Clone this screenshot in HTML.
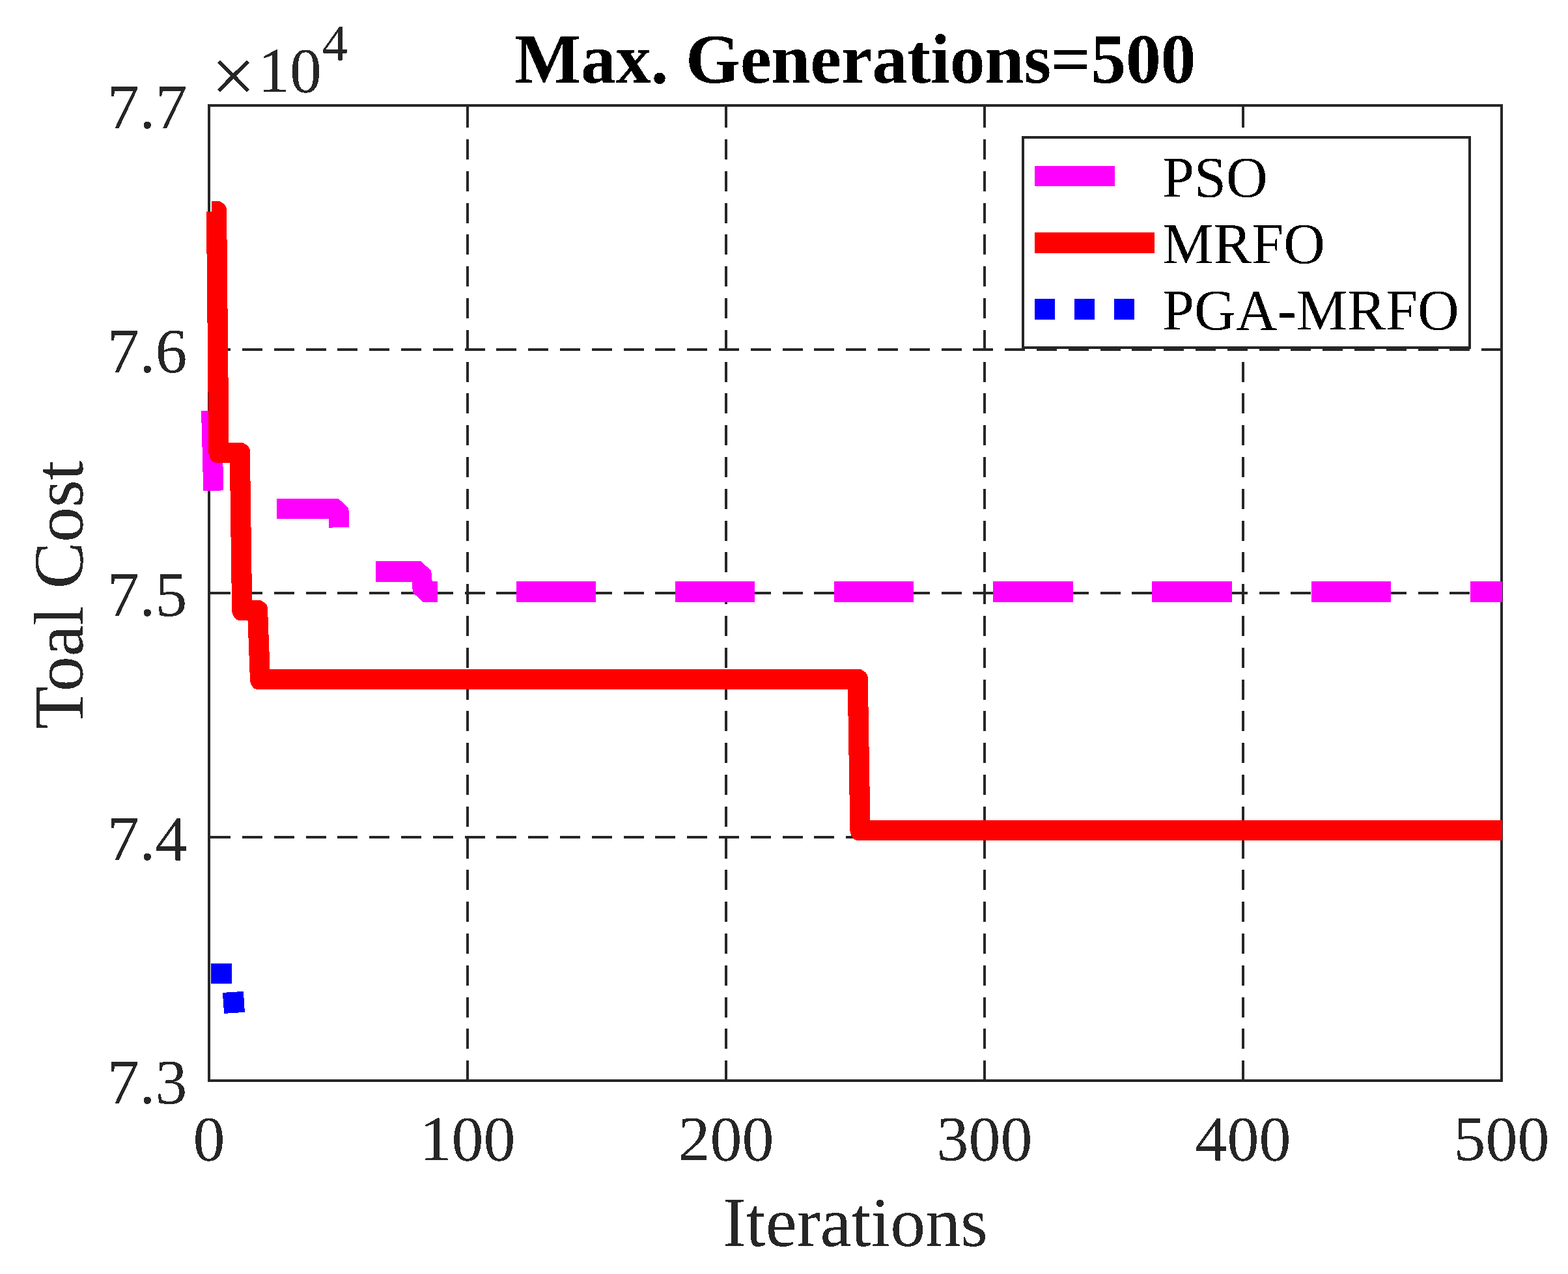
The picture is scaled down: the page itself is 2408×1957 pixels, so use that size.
<!DOCTYPE html>
<html><head><meta charset="utf-8"><title>Max. Generations=500</title>
<style>html,body{margin:0;padding:0;background:#fff;}svg{display:block;}</style></head>
<body><svg width="2408" height="1957" viewBox="0 0 2408 1957" shape-rendering="crispEdges">
<defs><filter id="bin" filterUnits="userSpaceOnUse" x="0" y="0" width="2408" height="1957" color-interpolation-filters="sRGB"><feComponentTransfer><feFuncA type="discrete" tableValues="0 1"/></feComponentTransfer></filter></defs>
<rect x="0" y="0" width="2408" height="1957" fill="#ffffff"/>
<path d="M718,165.2V1660 M1115,165.2V1660 M1512,165.2V1660 M1909,165.2V1660 M323.2,536.5H2306 M323.2,911H2306 M323.2,1285.5H2306" stroke="#262626" stroke-width="4.0" stroke-dasharray="31 17.8" fill="none"/>
<path d="M718,162V166 M1115,162V166 M1512,162V166 M1909,162V166" stroke="#262626" stroke-width="4.0" fill="none"/>
<rect x="321" y="162" width="1985" height="1498" fill="none" stroke="#262626" stroke-width="3.75"/>
<path d="M324.6,631 L327.9,753.8 M425.1,781.5 L519.8,781.5 L520.75,810.2 M577.2,878 L646.7,878 L649.5,909 L672,909 M792.6,909 H914.9 M1036.8,909 H1159.1 M1281,909 H1403.3 M1525.2,909 H1647.5 M1769.4,909 H1891.7 M2013.6,909 H2135.9 M2257.8,909 H2306.8" stroke="#ff00ff" stroke-width="31.2" fill="none" stroke-linejoin="bevel" stroke-linecap="butt"/>
<path d="M324.6,324.5 L332.5,324.5 L336,695.4 L368.3,695.4 L371.7,937.4 L395.5,937.4 L399.5,1043.6 L1317.2,1043.6 L1321,1275.3 L2306.8,1275.3" stroke="#ff0000" stroke-width="31.2" fill="none" stroke-linejoin="round" stroke-linecap="butt"/>
<path d="M332.5,324.5 L332.5,308.9 L337.9,309.1 L340.1,311 L341.9,312 L345.1,314.2 L347.1,317.6 L348.1,320.2 L348.1,324.5ZM368.3,695.4 L368.3,679.8 L373.7,680 L375.9,681.9 L377.7,682.9 L380.9,685.1 L382.9,688.5 L383.9,691.1 L383.9,695.4ZM395.5,937.4 L395.5,921.8 L400.9,922 L403.1,923.9 L404.9,924.9 L408.1,927.1 L410.1,930.5 L411.1,933.1 L411.1,937.4ZM1317.2,1043.6 L1317.2,1028 L1322.6,1028.2 L1324.8,1030.1 L1326.6,1031.1 L1329.8,1033.3 L1331.8,1036.7 L1332.8,1039.3 L1332.8,1043.6ZM336,695.4 L320.4,695.4 L320.4,696.9 L321.3,700.9 L322.3,703.6 L325.2,707.7 L327.6,709.9 L331.4,711 L336,711ZM371.7,937.4 L356.1,937.4 L356.1,938.9 L357,942.9 L358,945.6 L360.9,949.7 L363.3,951.9 L367.1,953 L371.7,953ZM399.5,1043.6 L383.9,1043.6 L383.9,1045.1 L384.8,1049.1 L385.8,1051.8 L388.7,1055.9 L391.1,1058.1 L394.9,1059.2 L399.5,1059.2ZM1321,1275.3 L1305.4,1275.3 L1305.4,1276.8 L1306.3,1280.8 L1307.3,1283.5 L1310.2,1287.6 L1312.6,1289.8 L1316.4,1290.9 L1321,1290.9Z" fill="#ff0000"/>
<rect x="324.1" y="1480" width="31.8" height="30.8" fill="#0000ff"/>
<polygon points="341.9,1524.9 373.9,1522.9 375.9,1554.9 344.1,1556.9" fill="#0000ff"/>
<rect x="1571" y="211" width="686" height="323" fill="#ffffff" stroke="#262626" stroke-width="3.9"/>
<rect x="1589.3" y="255" width="122.4" height="31" fill="#ff00ff"/>
<rect x="1589.3" y="356.8" width="183.9" height="31.8" fill="#ff0000"/>
<rect x="1589.3" y="459" width="31" height="31.8" fill="#0000ff"/>
<rect x="1649.8" y="459" width="31" height="31.8" fill="#0000ff"/>
<rect x="1711" y="459" width="31" height="31.8" fill="#0000ff"/>
<g filter="url(#bin)">
<g font-family="'Liberation Serif','Times New Roman',serif" fill="#000000" font-size="88.2"><text x="1785" y="301.8">PSO</text><text x="1785" y="404">MRFO</text><text x="1785" y="506.4">PGA-MRFO</text></g>
<g font-family="'Liberation Serif','Times New Roman',serif" fill="#262626" font-size="98"><text x="321" y="1781.6" text-anchor="middle">0</text><text x="718" y="1781.6" text-anchor="middle">100</text><text x="1115" y="1781.6" text-anchor="middle">200</text><text x="1512" y="1781.6" text-anchor="middle">300</text><text x="1909" y="1781.6" text-anchor="middle">400</text><text x="2306" y="1781.6" text-anchor="middle">500</text><text x="287.6" y="197.2" text-anchor="end">7.7</text><text x="287.6" y="571.7" text-anchor="end">7.6</text><text x="287.6" y="946.2" text-anchor="end">7.5</text><text x="287.6" y="1320.7" text-anchor="end">7.4</text><text x="287.6" y="1695.2" text-anchor="end">7.3</text></g>
<g font-family="'Liberation Serif','Times New Roman',serif" fill="#262626"><text x="324.3" y="156.7" font-size="121.2">×</text><text x="396" y="140.9" font-size="98">10</text><text x="494.5" y="91.7" font-size="78.7">4</text></g>
<text x="1313.5" y="1913.7" text-anchor="middle" font-family="'Liberation Serif','Times New Roman',serif" font-size="107.8" fill="#262626">Iterations</text>
<text transform="translate(126.6,913.8) rotate(-90)" x="0" y="0" textLength="412.6" lengthAdjust="spacing" text-anchor="middle" font-family="'Liberation Serif','Times New Roman',serif" font-size="107.8" fill="#262626">Toal Cost</text>
<text x="1313.5" y="127" textLength="1046" lengthAdjust="spacing" text-anchor="middle" font-family="'Liberation Serif','Times New Roman',serif" font-size="107.8" font-weight="bold" fill="#000000">Max. Generations=500</text>
</g>
</svg></body></html>
